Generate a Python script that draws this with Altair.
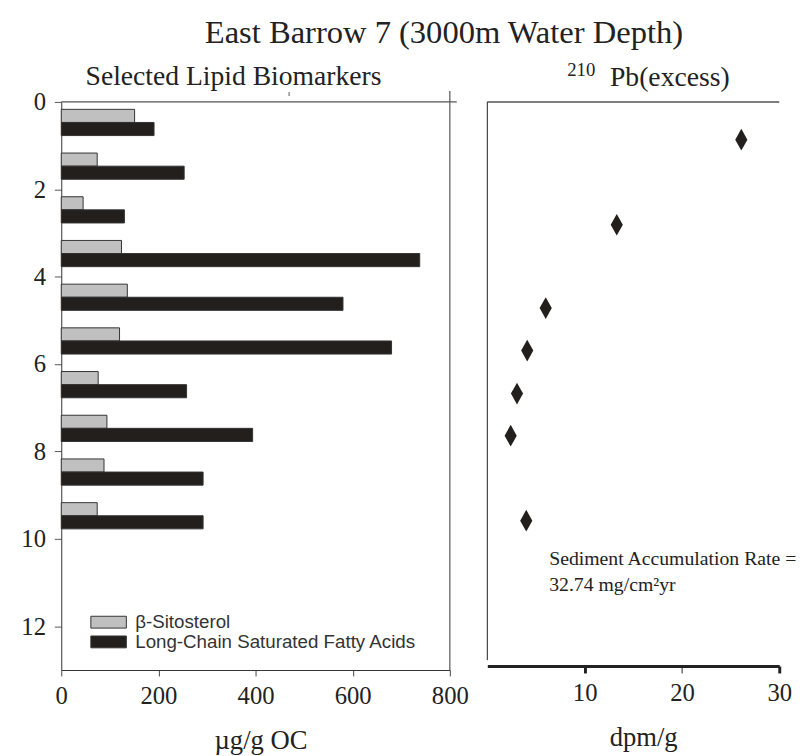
import altair as alt
import pandas as pd

# ---- data ----
depths = [0.5, 1.5, 2.5, 3.5, 4.5, 5.5, 6.5, 7.5, 8.5, 9.5]
sitosterol = [151, 74, 45, 124, 136, 120, 76, 94, 88, 74]
fatty_acids = [191, 253, 130, 738, 580, 680, 258, 394, 292, 292]
series_names = ["β-Sitosterol", "Long-Chain Saturated Fatty Acids"]

pb_depth = [0.87, 2.83, 4.75, 5.73, 6.72, 7.69, 9.65]
pb_excess = [26.1, 13.3, 6.0, 4.1, 3.05, 2.4, 4.0]

y_ticks = [0, 2, 4, 6, 8, 10, 12]
x_ticks_left = [0, 200, 400, 600, 800]
x_ticks_right = [10, 20, 30]

main_title = "East Barrow 7 (3000m Water Depth)"
left_title = "Selected Lipid Biomarkers"
right_title = "Pb(excess)"
right_title_sup = "210"
note_text = "Sediment Accumulation Rate =\n32.74 mg/cm²yr"

SERIF = "Liberation Serif"
SANS = "Liberation Sans"
INK = "#231f1c"
GRAY = "#c0c0c0"
TXT = "#222"

# bar table (each bar drawn as a thin band just above / below its depth)
rows = []
for d, s, f in zip(depths, sitosterol, fatty_acids):
    rows.append({"series": series_names[0], "x0": 0, "value": s, "top": d - 0.33, "bottom": d - 0.03})
    rows.append({"series": series_names[1], "x0": 0, "value": f, "top": d - 0.03, "bottom": d + 0.27})
bars_df = pd.DataFrame(rows)
pb_df = pd.DataFrame({"depth": pb_depth, "pb": pb_excess})

LW, LH = 394, 576
RW, RH = 296, 572

# wide, flat legend swatch (36 x 12 px with symbolSize 144)
legend_symbol = "M-3,-1L3,-1L3,1L-3,1Z"
diamond = "M0,-1L0.56,0L0,1L-0.56,0Z"

bars = alt.Chart(bars_df).mark_rect(stroke="#333", strokeWidth=1).encode(
    x=alt.X("x0:Q",
            scale=alt.Scale(domain=[0, 800], nice=False),
            axis=alt.Axis(values=x_ticks_left, title="µg/g OC", titleFontSize=27,
                          titleX=202, titlePadding=20, labelFontSize=25, labelPadding=8,
                          tickSize=6, tickColor="#444", domainColor="#333", labelFlush=False)),
    x2="value:Q",
    y=alt.Y("top:Q",
            scale=alt.Scale(domain=[0, 13], reverse=True, nice=False, zero=False),
            axis=alt.Axis(values=y_ticks, title=None, labelFontSize=25, labelPadding=9,
                          labelExpr="datum.value >= 10 ? datum.label + '\u2005' : datum.label",
                          tickSize=7, tickColor="#555", domainColor="#333", labelFlush=False)),
    y2="bottom:Q",
    color=alt.Color("series:N",
                    scale=alt.Scale(domain=series_names, range=[GRAY, INK]),
                    legend=alt.Legend(orient="none", legendX=38.5, legendY=518, title=None,
                                      symbolType=legend_symbol, symbolSize=144,
                                      symbolStrokeColor="#333", symbolStrokeWidth=1,
                                      labelFont=SANS, labelFontSize=19, labelColor="#333",
                                      labelOffset=17.5, labelLimit=0, rowPadding=0)),
)

frame_top = alt.Chart().mark_rule(color="#555", strokeWidth=1.2).encode(
    x=alt.value(0), x2=alt.value(LW + 7), y=alt.value(0))
frame_right = alt.Chart().mark_rule(color="#555", strokeWidth=1.2).encode(
    x=alt.value(LW), y=alt.value(-11), y2=alt.value(LH))
small_tick = alt.Chart().mark_rule(color="#555", strokeWidth=1).encode(
    x=alt.value(231), y=alt.value(-10), y2=alt.value(-6))

title_main = alt.Chart().mark_text(text=main_title, font=SERIF, fontSize=33, align="center",
                                   baseline="alphabetic", color=TXT).encode(
    x=alt.value(388), y=alt.value(-59.3))
title_left = alt.Chart().mark_text(text=left_title, font=SERIF, fontSize=28, align="left",
                                   baseline="alphabetic", color=TXT).encode(
    x=alt.value(24.6), y=alt.value(-16.7))

left = alt.layer(bars, frame_top, frame_right, small_tick, title_left, title_main).properties(
    width=LW, height=LH,
)

points = alt.Chart(pb_df).mark_point(shape=diamond, size=484, filled=True,
                                     color=INK, opacity=1).encode(
    x=alt.X("pb:Q",
            scale=alt.Scale(domain=[0, 30], nice=False),
            axis=alt.Axis(values=x_ticks_right, title="dpm/g", titleFontSize=27,
                          titleX=158, titlePadding=20, labelFontSize=25, labelPadding=8,
                          tickSize=7, tickColor="#222",
                          tickWidth={"condition": {"test": "datum.value === 20", "value": 1}, "value": 3},
                          domainWidth=3, domainColor="#222", labelFlush=False)),
    y=alt.Y("depth:Q",
            scale=alt.Scale(domain=[0, 13], reverse=True, nice=False, zero=False),
            axis=alt.Axis(ticks=False, labels=False, title=None, domain=False)),
)

right_top = alt.Chart().mark_rule(color="#555", strokeWidth=1.5).encode(
    x=alt.value(0), x2=alt.value(RW), y=alt.value(0))
right_left = alt.Chart().mark_rule(color="#222", strokeWidth=1).encode(
    x=alt.value(0), y=alt.value(0), y2=alt.value(RH - 6))
sup = alt.Chart().mark_text(text=right_title_sup, font=SERIF, fontSize=19, align="left",
                            baseline="alphabetic", color=TXT).encode(
    x=alt.value(81), y=alt.value(-26))
title_right = alt.Chart().mark_text(text=right_title, font=SERIF, fontSize=28, align="left",
                                    baseline="alphabetic", color=TXT).encode(
    x=alt.value(124.4), y=alt.value(-16))
note = alt.Chart().mark_text(text=note_text, lineBreak="\n",
                             lineHeight=26.7, font=SERIF, fontSize=20, align="left",
                             baseline="alphabetic", color=TXT).encode(
    x=alt.value(62.7), y=alt.value(469.7))

right = alt.layer(points, right_top, right_left, sup, title_right, note).properties(
    width=RW, height=RH,
)

chart = alt.hconcat(left, right, spacing=38, bounds="flush").properties(
    padding={"left": 13, "top": 4, "right": 0, "bottom": 0},
).configure_axis(
    grid=False, labelFont=SERIF, titleFont=SERIF, titleFontWeight="normal",
    labelColor=TXT, titleColor=TXT,
).configure_view(stroke=None)

chart.save("out.html", embed_options={"renderer": "svg", "actions": False})
